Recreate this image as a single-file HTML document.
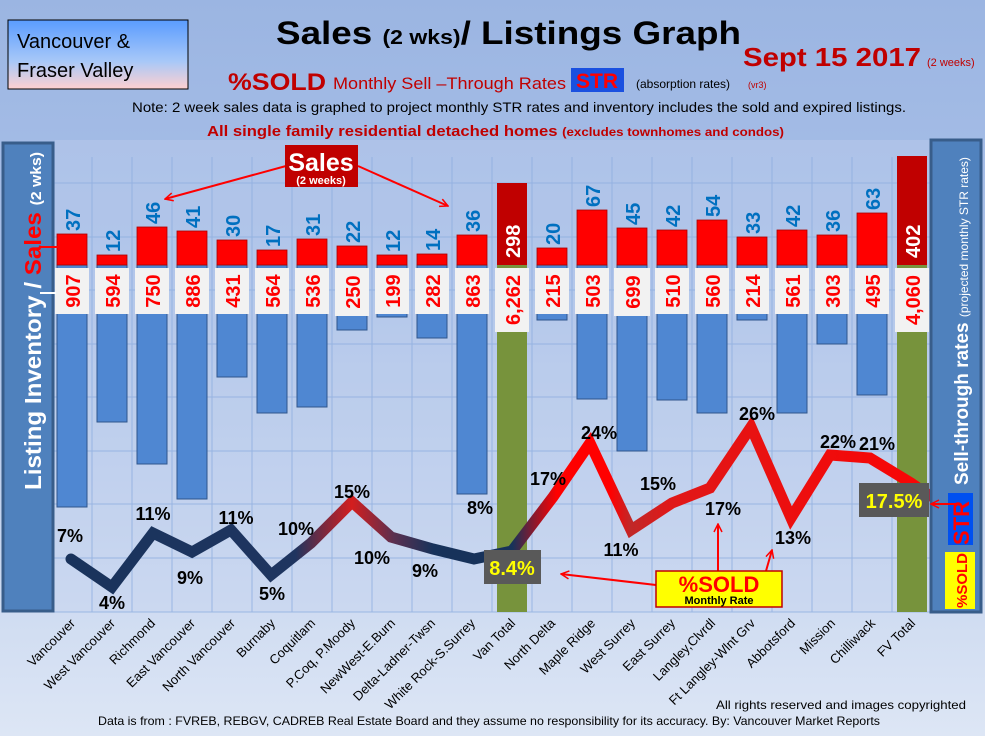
<!DOCTYPE html>
<html><head><meta charset="utf-8"><style>
html,body{margin:0;padding:0;width:985px;height:736px;overflow:hidden;}
svg text{font-family:"Liberation Sans",sans-serif;}
</style></head><body>
<svg width="985" height="736" viewBox="0 0 985 736" xmlns="http://www.w3.org/2000/svg">
<defs>
<linearGradient id="bg" x1="0" y1="0" x2="0" y2="1">
<stop offset="0" stop-color="#9bb5e2"/><stop offset="0.35" stop-color="#a9c0e8"/><stop offset="1" stop-color="#dde6f5"/>
</linearGradient>
<linearGradient id="vbox" x1="0" y1="0" x2="0" y2="1">
<stop offset="0" stop-color="#5a9cff"/><stop offset="0.6" stop-color="#a8c8f8"/><stop offset="1" stop-color="#ffd0d0"/>
</linearGradient>
<linearGradient id="ln" gradientUnits="userSpaceOnUse" x1="0" y1="0" x2="985" y2="0">
<stop offset="0" stop-color="#17325a"/><stop offset="0.30" stop-color="#1f3560"/>
<stop offset="0.357" stop-color="#d41e1e"/><stop offset="0.40" stop-color="#5a3050"/>
<stop offset="0.44" stop-color="#17325a"/><stop offset="0.52" stop-color="#17325a"/>
<stop offset="0.565" stop-color="#f00"/><stop offset="0.62" stop-color="#f00"/>
<stop offset="0.64" stop-color="#c02828"/><stop offset="0.68" stop-color="#e01818"/>
<stop offset="1" stop-color="#f00"/>
</linearGradient>
<marker id="ah" markerWidth="10" markerHeight="10" refX="9" refY="5" orient="auto" markerUnits="userSpaceOnUse"><path d="M1,1 L9,5 L1,9" fill="none" stroke="#f00" stroke-width="1.5"/></marker>
</defs>
<rect width="985" height="736" fill="url(#bg)"/>
<rect x="55" y="140" width="875" height="472" fill="#c2d1ee" opacity="0.35"/>
<!-- grid -->
<g stroke="#8eaee0" stroke-width="1" opacity="0.8">
<line x1="52" y1="183" x2="930" y2="183"/><line x1="52" y1="237" x2="930" y2="237"/><line x1="52" y1="290" x2="930" y2="290"/><line x1="52" y1="344" x2="930" y2="344"/><line x1="52" y1="397" x2="930" y2="397"/><line x1="52" y1="451" x2="930" y2="451"/><line x1="52" y1="504" x2="930" y2="504"/><line x1="52" y1="558" x2="930" y2="558"/><line x1="52" y1="612" x2="930" y2="612"/>
<line x1="92" y1="157" x2="92" y2="612"/><line x1="132" y1="157" x2="132" y2="612"/><line x1="172" y1="157" x2="172" y2="612"/><line x1="212" y1="157" x2="212" y2="612"/><line x1="252" y1="157" x2="252" y2="612"/><line x1="292" y1="157" x2="292" y2="612"/><line x1="332" y1="157" x2="332" y2="612"/><line x1="372" y1="157" x2="372" y2="612"/><line x1="412" y1="157" x2="412" y2="612"/><line x1="452" y1="157" x2="452" y2="612"/><line x1="492" y1="157" x2="492" y2="612"/><line x1="532" y1="157" x2="532" y2="612"/><line x1="572" y1="157" x2="572" y2="612"/><line x1="612" y1="157" x2="612" y2="612"/><line x1="652" y1="157" x2="652" y2="612"/><line x1="692" y1="157" x2="692" y2="612"/><line x1="732" y1="157" x2="732" y2="612"/><line x1="772" y1="157" x2="772" y2="612"/><line x1="812" y1="157" x2="812" y2="612"/><line x1="852" y1="157" x2="852" y2="612"/><line x1="892" y1="157" x2="892" y2="612"/>
</g>
<!-- left panel -->
<rect x="3" y="143" width="50" height="468" fill="#4f81bd" stroke="#385d8a" stroke-width="3"/>
<text transform="translate(41,490) rotate(-90)" font-size="23" font-weight="bold" fill="#fff" textLength="338" lengthAdjust="spacingAndGlyphs">Listing Inventory / <tspan fill="#f00">Sales</tspan> <tspan font-size="15">(2 wks)</tspan></text>
<!-- blue bars -->
<g fill="#4f87d2" stroke="#2f558c" stroke-width="1">
<rect x="57" y="265" width="30" height="242"/><rect x="97" y="265" width="30" height="157"/><rect x="137" y="265" width="30" height="199"/><rect x="177" y="265" width="30" height="234"/><rect x="217" y="265" width="30" height="112"/><rect x="257" y="265" width="30" height="148"/><rect x="297" y="265" width="30" height="142"/><rect x="337" y="265" width="30" height="65"/><rect x="377" y="265" width="30" height="52"/><rect x="417" y="265" width="30" height="73"/><rect x="457" y="265" width="30" height="229"/>
<rect x="537" y="265" width="30" height="55"/><rect x="577" y="265" width="30" height="134"/><rect x="617" y="265" width="30" height="186"/><rect x="657" y="265" width="30" height="135"/><rect x="697" y="265" width="30" height="148"/><rect x="737" y="265" width="30" height="55"/><rect x="777" y="265" width="30" height="148"/><rect x="817" y="265" width="30" height="79"/><rect x="857" y="265" width="30" height="130"/>
</g>
<!-- green totals -->
<rect x="497" y="265" width="30" height="347" fill="#77933c"/>
<rect x="897" y="265" width="30" height="347" fill="#77933c"/>
<!-- red bars -->
<g fill="#f00" stroke="#a00" stroke-width="0.8">
<rect x="57" y="234" width="30" height="31"/><rect x="97" y="255" width="30" height="10"/><rect x="137" y="227" width="30" height="38"/><rect x="177" y="231" width="30" height="34"/><rect x="217" y="240" width="30" height="25"/><rect x="257" y="250" width="30" height="15"/><rect x="297" y="239" width="30" height="26"/><rect x="337" y="246" width="30" height="19"/><rect x="377" y="255" width="30" height="10"/><rect x="417" y="254" width="30" height="11"/><rect x="457" y="235" width="30" height="30"/>
<rect x="537" y="248" width="30" height="17"/><rect x="577" y="210" width="30" height="55"/><rect x="617" y="228" width="30" height="37"/><rect x="657" y="230" width="30" height="35"/><rect x="697" y="220" width="30" height="45"/><rect x="737" y="237" width="30" height="28"/><rect x="777" y="230" width="30" height="35"/><rect x="817" y="235" width="30" height="30"/><rect x="857" y="213" width="30" height="52"/>
</g>
<rect x="497" y="183" width="30" height="82" fill="#c00000"/>
<rect x="897" y="156" width="30" height="109" fill="#c00000"/>
<line x1="40" y1="247" x2="66" y2="247" stroke="#f00" stroke-width="2"/>
<!-- label boxes -->
<g fill="#f2f2f2">
<rect x="55" y="268" width="34" height="46"/><rect x="95" y="268" width="34" height="46"/><rect x="135" y="268" width="34" height="46"/><rect x="175" y="268" width="34" height="46"/><rect x="215" y="268" width="34" height="46"/><rect x="255" y="268" width="34" height="46"/><rect x="295" y="268" width="34" height="46"/><rect x="335" y="268" width="34" height="48"/><rect x="375" y="268" width="34" height="46"/><rect x="415" y="268" width="34" height="46"/><rect x="455" y="268" width="34" height="46"/><rect x="495" y="268" width="34" height="64"/>
<rect x="535" y="268" width="34" height="46"/><rect x="575" y="268" width="34" height="46"/><rect x="614" y="268" width="36" height="48"/><rect x="655" y="268" width="34" height="46"/><rect x="695" y="268" width="34" height="46"/><rect x="735" y="268" width="34" height="46"/><rect x="775" y="268" width="34" height="46"/><rect x="815" y="268" width="34" height="46"/><rect x="855" y="268" width="34" height="46"/><rect x="895" y="268" width="34" height="64"/>
</g>
<line x1="40" y1="293" x2="56" y2="293" stroke="#fff" stroke-width="2"/>
<g font-size="20" font-weight="bold" fill="#f00" text-anchor="middle">
<text transform="translate(80,291) rotate(-90)">907</text><text transform="translate(120,291) rotate(-90)">594</text><text transform="translate(160,291) rotate(-90)">750</text><text transform="translate(200,291) rotate(-90)">886</text><text transform="translate(240,291) rotate(-90)">431</text><text transform="translate(280,291) rotate(-90)">564</text><text transform="translate(320,291) rotate(-90)">536</text><text transform="translate(360,292) rotate(-90)">250</text><text transform="translate(400,291) rotate(-90)">199</text><text transform="translate(440,291) rotate(-90)">282</text><text transform="translate(480,291) rotate(-90)">863</text><text transform="translate(520,300) rotate(-90)">6,262</text>
<text transform="translate(560,291) rotate(-90)">215</text><text transform="translate(600,291) rotate(-90)">503</text><text transform="translate(640,292) rotate(-90)">699</text><text transform="translate(680,291) rotate(-90)">510</text><text transform="translate(720,291) rotate(-90)">560</text><text transform="translate(760,291) rotate(-90)">214</text><text transform="translate(800,291) rotate(-90)">561</text><text transform="translate(840,291) rotate(-90)">303</text><text transform="translate(880,291) rotate(-90)">495</text><text transform="translate(920,300) rotate(-90)">4,060</text>
</g>
<!-- sales numbers -->
<g font-size="20" font-weight="bold" fill="#0070c0">
<text transform="translate(80,231) rotate(-90)">37</text><text transform="translate(120,252) rotate(-90)">12</text><text transform="translate(160,224) rotate(-90)">46</text><text transform="translate(200,228) rotate(-90)">41</text><text transform="translate(240,237) rotate(-90)">30</text><text transform="translate(280,247) rotate(-90)">17</text><text transform="translate(320,236) rotate(-90)">31</text><text transform="translate(360,243) rotate(-90)">22</text><text transform="translate(400,252) rotate(-90)">12</text><text transform="translate(440,251) rotate(-90)">14</text><text transform="translate(480,232) rotate(-90)">36</text>
<text transform="translate(560,245) rotate(-90)">20</text><text transform="translate(600,207) rotate(-90)">67</text><text transform="translate(640,225) rotate(-90)">45</text><text transform="translate(680,227) rotate(-90)">42</text><text transform="translate(720,217) rotate(-90)">54</text><text transform="translate(760,234) rotate(-90)">33</text><text transform="translate(800,227) rotate(-90)">42</text><text transform="translate(840,232) rotate(-90)">36</text><text transform="translate(880,210) rotate(-90)">63</text>
</g>
<g font-size="20" font-weight="bold" fill="#fff">
<text transform="translate(520,258) rotate(-90)">298</text><text transform="translate(920,258) rotate(-90)">402</text>
</g>
<!-- line -->
<polyline points="71,559 112,587 153,533 192,552 231,530 271,575 311,543 352,502 391,537 433,549 474,559 512,551 553,497 590,443 631,530 672,503 710,488 751,427 791,518 830,455 870,458 911,483 930,496" fill="none" stroke="url(#ln)" stroke-width="11" stroke-linejoin="miter" stroke-linecap="round"/>
<!-- pct labels -->
<g font-size="18" font-weight="bold" fill="#000" text-anchor="middle">
<text x="70" y="542">7%</text><text x="112" y="609">4%</text><text x="153" y="520">11%</text><text x="190" y="584">9%</text><text x="236" y="524">11%</text><text x="272" y="600">5%</text><text x="296" y="535">10%</text><text x="352" y="498">15%</text><text x="372" y="564">10%</text><text x="425" y="577">9%</text><text x="480" y="514">8%</text><text x="548" y="485">17%</text><text x="599" y="439">24%</text><text x="621" y="556">11%</text><text x="658" y="490">15%</text><text x="723" y="515">17%</text><text x="757" y="420">26%</text><text x="793" y="544">13%</text><text x="838" y="448">22%</text><text x="877" y="450">21%</text>
</g>
<!-- value boxes -->
<rect x="484" y="550" width="57" height="34" fill="#595959"/>
<text x="512" y="575" font-size="20" font-weight="bold" fill="#ff0" text-anchor="middle">8.4%</text>
<rect x="859" y="483" width="70" height="34" fill="#595959"/>
<text x="894" y="508" font-size="20" font-weight="bold" fill="#ff0" text-anchor="middle">17.5%</text>
<!-- %SOLD box -->
<line x1="656" y1="585" x2="561" y2="574" stroke="#f00" stroke-width="2" marker-end="url(#ah)"/>
<line x1="718" y1="571" x2="718" y2="524" stroke="#f00" stroke-width="2" marker-end="url(#ah)"/>
<line x1="766" y1="571" x2="772" y2="550" stroke="#f00" stroke-width="2" marker-end="url(#ah)"/>
<rect x="656" y="571" width="126" height="36" fill="#ff0" stroke="#c00000" stroke-width="1.5"/>
<text x="719" y="592" font-size="22" font-weight="bold" fill="#f00" text-anchor="middle">%SOLD</text>
<text x="719" y="604" font-size="11" font-weight="bold" fill="#000" text-anchor="middle">Monthly Rate</text>
<!-- Sales label -->
<line x1="286" y1="166" x2="165" y2="199" stroke="#f00" stroke-width="2" marker-end="url(#ah)"/>
<line x1="358" y1="166" x2="448" y2="206" stroke="#f00" stroke-width="2" marker-end="url(#ah)"/>
<rect x="285" y="145" width="73" height="42" fill="#c00000"/>
<text x="321" y="171" font-size="25" font-weight="bold" fill="#fff" text-anchor="middle">Sales</text>
<text x="321" y="184" font-size="11" font-weight="bold" fill="#fff" text-anchor="middle">(2 weeks)</text>
<!-- right panel -->
<rect x="931" y="140" width="50" height="472" fill="#4f81bd" stroke="#385d8a" stroke-width="3"/>
<text transform="translate(968,485) rotate(-90)" font-size="19" font-weight="bold" fill="#fff">Sell-through rates <tspan font-size="12" font-weight="normal">(projected monthly STR rates)</tspan></text>
<rect x="948" y="493" width="25" height="52" fill="#0050f0"/>
<text transform="translate(969,545) rotate(-90)" font-size="22" font-weight="bold" fill="#f00">STR</text>
<rect x="945" y="552" width="30" height="57" fill="#ff0"/>
<text transform="translate(967,608) rotate(-90)" font-size="15" font-weight="bold" fill="#f00">%SOLD</text>
<line x1="958" y1="504" x2="931" y2="504" stroke="#f00" stroke-width="2" marker-end="url(#ah)"/>
<!-- x labels -->
<g font-size="13" fill="#000" text-anchor="end">
<text transform="translate(76,624) rotate(-45)">Vancouver</text><text transform="translate(116,624) rotate(-45)">West Vancouver</text><text transform="translate(156,624) rotate(-45)">Richmond</text><text transform="translate(196,624) rotate(-45)">East Vancouver</text><text transform="translate(236,624) rotate(-45)">North Vancouver</text><text transform="translate(276,624) rotate(-45)">Burnaby</text><text transform="translate(316,624) rotate(-45)">Coquitlam</text><text transform="translate(356,624) rotate(-45)">P.Coq, P.Moody</text><text transform="translate(396,624) rotate(-45)">NewWest-E.Burn</text><text transform="translate(436,624) rotate(-45)">Delta-Ladner-Twsn</text><text transform="translate(476,624) rotate(-45)">White Rock-S.Surrey</text><text transform="translate(516,624) rotate(-45)">Van Total</text><text transform="translate(556,624) rotate(-45)">North Delta</text><text transform="translate(596,624) rotate(-45)">Maple Ridge</text><text transform="translate(636,624) rotate(-45)">West Surrey</text><text transform="translate(676,624) rotate(-45)">East Surrey</text><text transform="translate(716,624) rotate(-45)">Langley,Clvrdl</text><text transform="translate(756,624) rotate(-45)">Ft Langley-Wlnt Grv</text><text transform="translate(796,624) rotate(-45)">Abbotsford</text><text transform="translate(836,624) rotate(-45)">Mission</text><text transform="translate(876,624) rotate(-45)">Chilliwack</text><text transform="translate(916,624) rotate(-45)">FV Total</text>
</g>
<text x="966" y="709" font-size="12" fill="#000" text-anchor="end" textLength="250" lengthAdjust="spacingAndGlyphs">All rights reserved and  images copyrighted</text>
<text x="98" y="725" font-size="12" fill="#000" textLength="782" lengthAdjust="spacingAndGlyphs">Data is from : FVREB, REBGV, CADREB Real Estate Board and they assume no responsibility for its accuracy. By: Vancouver Market Reports</text>
<!-- header -->
<rect x="8" y="20" width="180" height="69" fill="url(#vbox)" stroke="#000" stroke-width="1"/>
<text x="17" y="48" font-size="20" fill="#000">Vancouver &amp;</text>
<text x="17" y="77" font-size="20" fill="#000">Fraser Valley</text>
<text x="276" y="44" font-size="32" font-weight="bold" fill="#000" textLength="465" lengthAdjust="spacingAndGlyphs">Sales <tspan font-size="20">(2 wks)</tspan>/ Listings Graph</text>
<text x="743" y="66" font-size="26" font-weight="bold" fill="#c00000" textLength="178" lengthAdjust="spacingAndGlyphs">Sept 15 2017</text>
<text x="927" y="66" font-size="11" fill="#c00000">(2 weeks)</text>
<text x="228" y="90" font-size="24" font-weight="bold" fill="#c00000" textLength="98" lengthAdjust="spacingAndGlyphs">%SOLD</text>
<text x="333" y="89" font-size="17" fill="#c00000" textLength="233" lengthAdjust="spacingAndGlyphs">Monthly Sell –Through Rates</text>
<rect x="571" y="68" width="53" height="24" fill="#1a50e0"/>
<text x="597" y="88" font-size="21" font-weight="bold" fill="#f00" text-anchor="middle">STR</text>
<text x="636" y="88" font-size="12" fill="#000">(absorption rates)</text>
<text x="748" y="88" font-size="9" fill="#c00000">(vr3)</text>
<text x="132" y="112" font-size="14" fill="#000" textLength="774" lengthAdjust="spacingAndGlyphs">Note: 2 week sales data is graphed to project monthly STR rates and inventory includes the sold and expired listings.</text>
<text x="207" y="136" font-size="15" font-weight="bold" fill="#c00000" textLength="577" lengthAdjust="spacingAndGlyphs">All single family residential detached homes <tspan font-size="12">(excludes townhomes and condos)</tspan></text>
</svg>
</body></html>
